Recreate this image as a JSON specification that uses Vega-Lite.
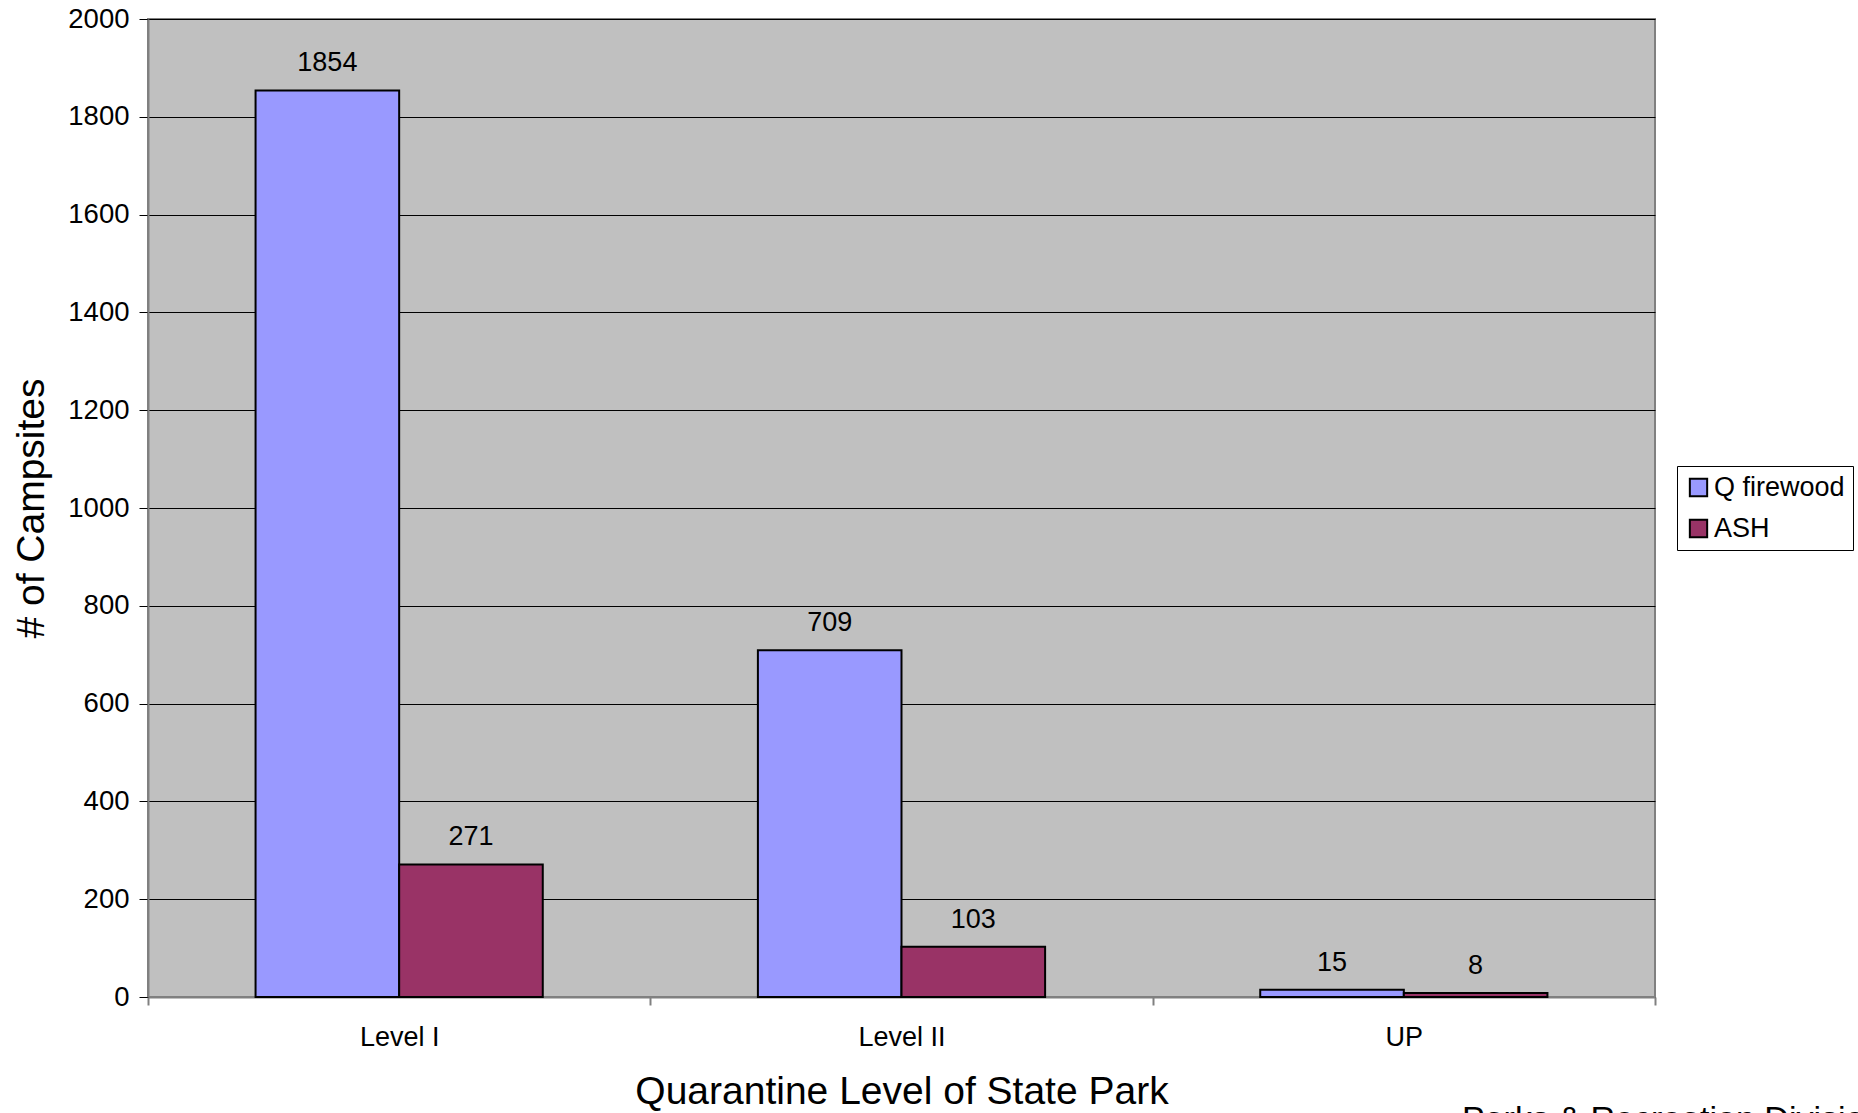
{
  "$schema": "https://vega.github.io/schema/vega-lite/v6.json",
  "width": 1507,
  "height": 978,
  "autosize": "none",
  "padding": {"left": 148, "top": 19, "right": 203, "bottom": 116},
  "background": "white",
  "config": {
    "font": "Liberation Sans",
    "view": {"fill": "#C0C0C0", "stroke": "#808080", "strokeWidth": 2}
  },
  "title": {
    "text": "Parks & Recreation Division",
    "orient": "bottom",
    "anchor": "start",
    "frame": "group",
    "fontSize": 34,
    "fontWeight": "normal",
    "color": "black",
    "offset": -8,
    "dx": 1314
  },
  "data": {
    "values": [
      {"level": "Level I", "series": "Q firewood", "value": 1854},
      {"level": "Level I", "series": "ASH", "value": 271},
      {"level": "Level II", "series": "Q firewood", "value": 709},
      {"level": "Level II", "series": "ASH", "value": 103},
      {"level": "UP", "series": "Q firewood", "value": 15},
      {"level": "UP", "series": "ASH", "value": 8}
    ]
  },
  "encoding": {
    "x": {
      "field": "level",
      "type": "nominal",
      "sort": ["Level I", "Level II", "UP"],
      "scale": {"paddingInner": 0, "paddingOuter": 0},
      "axis": {
        "title": "Quarantine Level of State Park",
        "titleFontSize": 39,
        "titleFontWeight": "normal",
        "titleColor": "black",
        "titlePadding": 22,
        "labelAngle": 0,
        "labelFontSize": 27,
        "labelColor": "black",
        "labelPadding": 19,
        "tickBand": "extent",
        "tickSize": 8,
        "tickColor": "#808080",
        "tickWidth": 2,
        "domainColor": "#808080",
        "domainWidth": 2,
        "grid": false
      }
    },
    "xOffset": {
      "field": "series",
      "type": "nominal",
      "sort": ["Q firewood", "ASH"],
      "scale": {"paddingInner": 0, "paddingOuter": 0.749}
    },
    "y": {
      "field": "value",
      "type": "quantitative",
      "scale": {"domain": [0, 2000]},
      "axis": {
        "title": "# of Campsites",
        "titleFontSize": 39,
        "titleFontWeight": "normal",
        "titleColor": "black",
        "titlePadding": 16,
        "values": [0, 200, 400, 600, 800, 1000, 1200, 1400, 1600, 1800, 2000],
        "format": "d",
        "labelFontSize": 27.5,
        "labelColor": "black",
        "labelPadding": 10,
        "tickSize": 9,
        "tickColor": "black",
        "tickWidth": 1,
        "domainColor": "#808080",
        "domainWidth": 2,
        "grid": true,
        "gridColor": "black",
        "gridWidth": 1,
        "gridOpacity": 1
      }
    }
  },
  "layer": [
    {
      "mark": {"type": "bar", "stroke": "black", "strokeWidth": 2},
      "encoding": {
        "color": {
          "field": "series",
          "type": "nominal",
          "scale": {"domain": ["Q firewood", "ASH"], "range": ["#9999FF", "#993366"]},
          "legend": {
            "title": null,
            "orient": "none",
            "legendX": 1529,
            "legendY": 447,
            "fillColor": "white",
            "strokeColor": "black",
            "padding": 8,
            "symbolType": "square",
            "symbolSize": 300,
            "symbolStrokeColor": "black",
            "symbolStrokeWidth": 2,
            "symbolOpacity": 1,
            "labelFontSize": 27,
            "labelColor": "black",
            "labelOffset": 2,
            "rowPadding": 13
          }
        }
      }
    },
    {
      "mark": {"type": "text", "baseline": "bottom", "dy": -13, "fontSize": 27, "color": "black"},
      "encoding": {"text": {"field": "value", "type": "quantitative"}}
    }
  ]
}
